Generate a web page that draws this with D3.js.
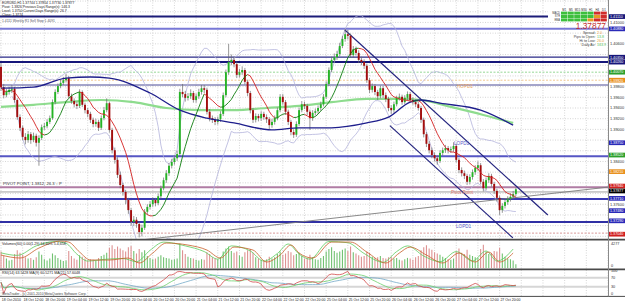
<!DOCTYPE html>
<html>
<head>
<meta charset="utf-8">
<script src="https://cdn.jsdelivr.net/npm/d3@7"></script>
<style>
  body { margin: 0; background: #fff; }
  svg { display: block; font-family: "Liberation Sans", Arial, sans-serif; }
</style>
</head>
<body>
<div id="chart"></div>
<script>
// EURUSD H1, 18 - 27 Oct 2010
var firstOpen = 1.4017;
var closes = [
  1.3979,1.3964,1.3970,1.3974,1.3976,1.3955,1.3923,1.3903,1.3886,1.3880,
  1.3891,1.3880,1.3888,1.3875,1.3884,1.3904,1.3906,1.3914,1.3921,1.3951,
  1.3970,1.3981,1.3987,1.3992,1.3996,1.3962,1.3953,1.3947,1.3944,1.3970,
  1.3946,1.3936,1.3929,1.3918,1.3910,1.3914,1.3903,1.3921,1.3936,1.3949,
  1.3899,1.3861,1.3843,1.3815,1.3796,1.3783,1.3768,1.3749,1.3727,1.3731,
  1.3723,1.3708,1.3716,1.3746,1.3755,1.3760,1.3768,1.3762,1.3775,1.3790,
  1.3805,1.3818,1.3832,1.3839,1.3846,1.3854,1.3970,1.3966,1.3959,1.3962,
  1.3968,1.3955,1.3962,1.3970,1.3977,1.3974,1.3933,1.3921,1.3918,1.3914,
  1.3919,1.3929,1.3964,1.4007,1.4026,1.4030,1.4022,1.4002,1.4007,1.4011,
  1.3989,1.3968,1.3936,1.3918,1.3925,1.3921,1.3929,1.3923,1.3919,1.3908,
  1.3914,1.3921,1.3936,1.3961,1.3951,1.3933,1.3914,1.3895,1.3890,1.3910,
  1.3936,1.3947,1.3944,1.3933,1.3921,1.3931,1.3934,1.3940,1.3947,1.3961,
  1.3985,1.4011,1.4030,1.4035,1.4041,1.4056,1.4069,1.4078,1.4075,1.4039,
  1.4050,1.4043,1.4030,1.4026,1.4019,1.3992,1.3974,1.3981,1.3970,1.3962,
  1.3977,1.3964,1.3957,1.3940,1.3936,1.3947,1.3959,1.3961,1.3951,1.3959,
  1.3966,1.3955,1.3951,1.3947,1.3940,1.3918,1.3891,1.3873,1.3861,1.3852,
  1.3846,1.3841,1.3856,1.3861,1.3865,1.3861,1.3863,1.3869,1.3843,1.3824,
  1.3818,1.3813,1.3802,1.3811,1.3820,1.3828,1.3833,1.3802,1.3790,1.3805,
  1.3813,1.3798,1.3785,1.3772,1.3749,1.3757,1.3764,1.3770,1.3774,1.3779,
  1.3788
];
var highs = [
  1.4024,1.3985,1.3976,1.3980,1.3983,1.3980,1.3958,1.3928,1.3907,1.3893,
  1.3897,1.3895,1.3894,1.3892,1.3889,1.3909,1.3912,1.3919,1.3926,1.3956,
  1.3975,1.3986,1.3993,1.3998,1.4004,1.4000,1.3967,1.3958,1.3952,1.3975,
  1.3973,1.3950,1.3940,1.3933,1.3922,1.3920,1.3918,1.3926,1.3942,1.3958,
  1.3952,1.3903,1.3866,1.3848,1.3821,1.3800,1.3787,1.3772,1.3753,1.3738,
  1.3736,1.3728,1.3722,1.3751,1.3760,1.3766,1.3773,1.3772,1.3780,1.3795,
  1.3810,1.3824,1.3837,1.3845,1.3852,1.3860,1.3976,1.3985,1.3972,1.3968,
  1.3975,1.3972,1.3967,1.3976,1.3983,1.3983,1.3978,1.3938,1.3926,1.3923,
  1.3924,1.3934,1.3969,1.4012,1.4060,1.4040,1.4036,1.4027,1.4013,1.4018,
  1.4015,1.3993,1.3972,1.3940,1.3930,1.3929,1.3934,1.3933,1.3928,1.3923,
  1.3920,1.3926,1.3941,1.3966,1.3966,1.3955,1.3937,1.3918,1.3900,1.3915,
  1.3941,1.3953,1.3952,1.3948,1.3937,1.3936,1.3939,1.3945,1.3952,1.3966,
  1.3990,1.4016,1.4036,1.4042,1.4047,1.4062,1.4075,1.4088,1.4086,1.4079,
  1.4056,1.4055,1.4048,1.4036,1.4031,1.4023,1.3996,1.3986,1.3985,1.3974,
  1.3982,1.3981,1.3969,1.3961,1.3945,1.3952,1.3963,1.3967,1.3965,1.3964,
  1.3971,1.3970,1.3960,1.3956,1.3952,1.3944,1.3922,1.3895,1.3878,1.3866,
  1.3857,1.3851,1.3861,1.3866,1.3871,1.3869,1.3868,1.3876,1.3873,1.3847,
  1.3829,1.3823,1.3817,1.3816,1.3825,1.3833,1.3840,1.3837,1.3807,1.3810,
  1.3818,1.3817,1.3802,1.3789,1.3776,1.3762,1.3769,1.3775,1.3780,1.3785,
  1.3791
];
var lows = [
  1.3972,1.3958,1.3960,1.3965,1.3968,1.3950,1.3918,1.3897,1.3880,1.3872,
  1.3875,1.3873,1.3876,1.3868,1.3832,1.3880,1.3899,1.3902,1.3910,1.3918,
  1.3947,1.3966,1.3977,1.3983,1.3988,1.3958,1.3948,1.3941,1.3938,1.3940,
  1.3942,1.3930,1.3923,1.3912,1.3904,1.3905,1.3897,1.3899,1.3917,1.3932,
  1.3894,1.3855,1.3836,1.3809,1.3790,1.3776,1.3760,1.3742,1.3720,1.3719,
  1.3716,1.3698,1.3700,1.3712,1.3740,1.3750,1.3755,1.3756,1.3758,1.3770,
  1.3786,1.3800,1.3813,1.3827,1.3834,1.3841,1.3850,1.3960,1.3952,1.3954,
  1.3957,1.3950,1.3950,1.3957,1.3965,1.3968,1.3928,1.3915,1.3912,1.3908,
  1.3909,1.3914,1.3925,1.3960,1.4002,1.4020,1.4016,1.3996,1.3997,1.4002,
  1.3984,1.3962,1.3930,1.3912,1.3913,1.3915,1.3916,1.3918,1.3912,1.3900,
  1.3903,1.3909,1.3917,1.3932,1.3946,1.3927,1.3908,1.3889,1.3884,1.3886,
  1.3906,1.3932,1.3938,1.3927,1.3899,1.3916,1.3926,1.3929,1.3935,1.3943,
  1.3957,1.3981,1.4007,1.4025,1.4030,1.4037,1.4052,1.4064,1.4068,1.4034,
  1.4034,1.4038,1.4024,1.4020,1.4013,1.3987,1.3968,1.3969,1.3964,1.3955,
  1.3958,1.3959,1.3951,1.3934,1.3929,1.3931,1.3943,1.3954,1.3946,1.3947,
  1.3954,1.3950,1.3946,1.3942,1.3935,1.3912,1.3885,1.3867,1.3855,1.3846,
  1.3840,1.3834,1.3837,1.3851,1.3856,1.3855,1.3856,1.3858,1.3838,1.3818,
  1.3812,1.3807,1.3796,1.3797,1.3806,1.3815,1.3823,1.3797,1.3784,1.3786,
  1.3800,1.3793,1.3779,1.3765,1.3740,1.3744,1.3752,1.3759,1.3765,1.3769,
  1.3775
];
var volumes = [
  2600,1900,1500,1200,1300,2200,2800,2400,2100,1700,
  1500,1600,1300,1700,2600,2100,1400,1200,1500,2300,
  2000,1600,1300,1100,1200,2700,1900,1500,1300,2000,
  1800,1500,1200,1400,1300,1100,1600,1900,2100,2400,
  3200,3600,3000,3400,3100,2800,2600,3300,3500,2700,
  2300,3000,2500,2800,1900,1600,1400,1500,1800,2000,
  1700,1600,1500,1300,1400,1500,3900,2800,2200,1800,
  1600,1500,1300,1200,1400,1300,2500,2200,1700,1500,
  1400,1700,2600,3100,3400,2700,2400,2600,2000,1800,
  2500,2800,3000,2400,1700,1500,1300,1200,1400,1800,
  1500,1700,2200,2600,2100,2300,2700,2500,2000,2200,
  2400,1900,1500,1600,2100,1700,1400,1300,1600,1900,
  2600,3000,3300,2700,2400,2600,2900,3100,2700,3400,
  2500,2300,2000,1800,1900,2600,2400,1800,1600,1700,
  1900,1600,1500,1700,1800,1500,1600,1300,1200,1400,
  1600,1500,1300,1700,1900,2800,3300,3600,3100,2900,
  2500,2300,2100,1800,1600,1400,1300,1500,2600,3100,
  2400,2200,2900,2100,1900,1700,1600,3000,3700,2600,
  2200,2400,2700,2600,3200,2300,1800,1500,1400,1200,
  600
];

// slow moving averages, read as [bar, price]
var blueMA = [[0,1.3977],[12,1.3979],[24,1.3996],[33,1.3998],[40,1.3996],[55,1.3968],[66,1.3936],
  [76,1.3921],[86,1.3912],[100,1.3899],[110,1.3903],[122,1.3903],[135,1.3912],[143,1.3923],
  [151,1.3951],[155,1.3955],[162,1.3949],[177,1.3936],[189,1.3908]];
var greenMA = [[0,1.3942],[12,1.3946],[24,1.3951],[37,1.3955],[49,1.3951],[61,1.3940],[73,1.3936],
  [86,1.3936],[98,1.3940],[110,1.3944],[122,1.3951],[135,1.3957],[147,1.3957],[155,1.3955],
  [166,1.3942],[178,1.3927],[189,1.3912]];

// volume oscillator lines, read as [bar, value]
var volLineA = [[0,2054],[7,1580],[14,3160],[22,4266],[25,4108],[29,2528],[33,1264],[40,1264],[47,1580],
  [51,790],[56,2370],[61,3950],[69,3634],[76,2844],[81,1580],[86,3318],[93,2844],[98,948],[103,2054],
  [107,3634],[110,2370],[115,1580],[122,4108],[129,4108],[135,2528],[142,790],[147,2370],[151,3318],
  [157,2054],[163,790],[169,2370],[175,948],[180,2528],[184,948],[189,2370]];
var volLineB = [[0,2400],[6,2000],[13,3500],[20,4200],[24,3900],[28,2200],[32,1100],[39,1400],[45,1500],
  [50,1000],[55,2800],[60,4100],[68,3500],[75,2600],[80,1400],[85,3500],[92,2700],[97,1100],[102,2300],
  [106,3800],[110,2200],[114,1400],[121,4200],[128,4000],[134,2300],[141,900],[146,2600],[150,3500],
  [156,1900],[162,1000],[168,2600],[174,1100],[179,2700],[183,1100],[189,3000]];

// horizontal levels and trend lines
var levelPrices = [1.4111, 1.4088, 1.4035, 1.4026, 1.4007, 1.3992, 1.3983, 1.3850, 1.3792, 1.3783, 1.3770, 1.3727, 1.3706];
var trendLines = [
  [[126.9, 1.4086], [201.8, 1.3740]],
  [[143.5, 1.3907], [188.9, 1.3697]],
  [[51.3, 1.3693], [224, 1.3792]]
];
var markerPrices = [1.4111, 1.4088, 1.4035, 1.4026, 1.4007, 1.3992, 1.3875, 1.3852, 1.3821, 1.3794, 1.37877, 1.3771, 1.3748, 1.3729, 1.3704];
var priceTicks = [1.3700,1.3720,1.3740,1.3760,1.3780,1.3800,1.3820,1.3840,1.3860,1.3880,1.3900,1.3920,
  1.3940,1.3960,1.3980,1.4000,1.4020,1.4040,1.4060,1.4080,1.4100,1.4120,1.4140];
var timeLabels = ["18 Oct 2010","18 Oct 12:00","18 Oct 20:00","19 Oct 04:00","19 Oct 12:00","19 Oct 20:00",
  "20 Oct 04:00","20 Oct 12:00","20 Oct 20:00","21 Oct 04:00","21 Oct 12:00","21 Oct 20:00",
  "22 Oct 04:00","22 Oct 12:00","22 Oct 20:00","25 Oct 04:00","25 Oct 12:00","25 Oct 20:00",
  "26 Oct 04:00","26 Oct 12:00","26 Oct 20:00","27 Oct 04:00","27 Oct 12:00","27 Oct 20:00"];

var headerLines = ["EURUSD,H1  1.37744 1.37854 1.37730 1.37877",
  "Pivot: 1.3826     Previous Days Range(s): 146.3",
  "Level: 1.3750     Current Days Range(s): 26.7",
  "Close: 1.3774"];
var tfNames = ["M1","M5","M15","M30","H1","H4","D1"];
var signalRows = ["MACD","STR","EMA"];
var signalStates = [[1,1,1,1,1,-1,-1],[1,1,1,1,1,0,-1],[1,1,1,1,0,-1,-1]];
var infoLabels = ["Spread:", "Pips to Open:", "Hi to Low:", "Daily Av:"];
var infoValues = ["2.0", "13.8", "26.0", "163.9"];

// ---------------------------------------------------------------
var W = 625, H = 304, plotRight = 608;

var svg = d3.select("#chart").append("svg")
  .attr("width", W).attr("height", H);

var x = d3.scaleLinear().domain([0, 224]).range([1, 608]);
var y = d3.scaleLinear().domain([1.3695, 1.4142]).range([239, 0]);
var yVol = d3.scaleLinear().domain([0, 4277]).range([268, 241]);
var yRsi = d3.scaleLinear().domain([0, 100]).range([293.5, 271]);

var bars = closes.map(function(c, i) {
  return {i: i, o: i == 0 ? firstOpen : closes[i - 1], h: highs[i], l: lows[i], c: c, v: volumes[i]};
});

svg.append("defs").append("clipPath").attr("id", "mainclip")
  .append("rect").attr("x", 0).attr("y", 0).attr("width", plotRight).attr("height", 239);

// grid
var gridBars = d3.range(0, 225, 8);
svg.append("g").selectAll("line").data(gridBars).join("line")
  .attr("x1", function(d) { return x(d); }).attr("x2", function(d) { return x(d); })
  .attr("y1", 0).attr("y2", 296)
  .attr("stroke", "#c4c4c4").attr("stroke-width", 0.7).attr("stroke-dasharray", "1,1.5");
svg.append("g").selectAll("line").data(priceTicks).join("line")
  .attr("x1", 0).attr("x2", plotRight)
  .attr("y1", function(d) { return y(d); }).attr("y2", function(d) { return y(d); })
  .attr("stroke", "#c4c4c4").attr("stroke-width", 0.7).attr("stroke-dasharray", "1,1.5");

var main = svg.append("g").attr("clip-path", "url(#mainclip)");

// horizontal levels
var levelStyles = [
  {c: "#1c1c78", w: 2}, {c: "#7878d6", w: 2}, {c: "#2a2a88", w: 1.2}, {c: "#16167a", w: 2},
  {c: "#96d896", w: 1, d: "2,1.5"}, {c: "#f2c890", w: 1, d: "2,1.5"}, {c: "#4a4a96", w: 1},
  {c: "#5656c4", w: 2}, {c: "#b07ca4", w: 2}, {c: "#a0a0a0", w: 1}, {c: "#3a3ab4", w: 2},
  {c: "#3030a4", w: 2}, {c: "#d89898", w: 1, d: "2,1.5"}
];
main.append("g").selectAll("line").data(levelPrices).join("line")
  .attr("x1", 0).attr("x2", plotRight)
  .attr("y1", function(d) { return y(d); }).attr("y2", function(d) { return y(d); })
  .attr("stroke", function(d, i) { return levelStyles[i].c; })
  .attr("stroke-width", function(d, i) { return levelStyles[i].w; })
  .attr("stroke-dasharray", function(d, i) { return levelStyles[i].d || null; });

// bollinger bands (20, 2) and fast MA (10) from the closes
function windowOf(arr, i, n) { return arr.slice(Math.max(0, i - n + 1), i + 1); }
var bb = closes.map(function(c, i) {
  var w = windowOf(closes, i, 20), m = d3.mean(w);
  var sd = Math.sqrt(d3.mean(w, function(v) { return (v - m) * (v - m); }));
  return {i: i, up: m + 2 * sd, dn: m - 2 * sd};
}).filter(function(d) { return d.i >= 4; });
var fastMA = closes.map(function(c, i) { return d3.mean(windowOf(closes, i, 10)); });

main.append("path").datum(bb)
  .attr("d", d3.line().x(function(d) { return x(d.i); }).y(function(d) { return y(d.up); }))
  .attr("fill", "none").attr("stroke", "#b4b4dc").attr("stroke-width", 0.8);
main.append("path").datum(bb)
  .attr("d", d3.line().x(function(d) { return x(d.i); }).y(function(d) { return y(d.dn); }))
  .attr("fill", "none").attr("stroke", "#b4b4dc").attr("stroke-width", 0.8);

var maLine = d3.line().curve(d3.curveMonotoneX)
  .x(function(d) { return x(d[0]); }).y(function(d) { return y(d[1]); });
main.append("path").datum(greenMA).attr("d", maLine)
  .attr("fill", "none").attr("stroke", "#8edc8e").attr("stroke-width", 2.2);

// trend lines
var trendStyles = [{c: "#23237e", w: 1.2}, {c: "#23237e", w: 1.2}, {c: "#7c7c7c", w: 0.9}];
main.append("g").selectAll("line").data(trendLines).join("line")
  .attr("x1", function(d) { return x(d[0][0]); }).attr("y1", function(d) { return y(d[0][1]); })
  .attr("x2", function(d) { return x(d[1][0]); }).attr("y2", function(d) { return y(d[1][1]); })
  .attr("stroke", function(d, i) { return trendStyles[i].c; })
  .attr("stroke-width", function(d, i) { return trendStyles[i].w; });

// candles
var candle = main.append("g").selectAll("g").data(bars).join("g");
candle.append("line")
  .attr("x1", function(d) { return x(d.i); }).attr("x2", function(d) { return x(d.i); })
  .attr("y1", function(d) { return y(d.h); }).attr("y2", function(d) { return y(d.l); })
  .attr("stroke", "#6a6a6a").attr("stroke-width", 0.7);
candle.append("rect")
  .attr("x", function(d) { return x(d.i) - 0.95; }).attr("width", 1.9)
  .attr("y", function(d) { return y(Math.max(d.o, d.c)); })
  .attr("height", function(d) { return Math.max(0.8, Math.abs(y(d.o) - y(d.c))); })
  .attr("fill", function(d) { return d.c >= d.o ? "#25b425" : "#a30d0d"; });

main.append("path").datum(blueMA).attr("d", maLine)
  .attr("fill", "none").attr("stroke", "#1e1e8c").attr("stroke-width", 1.3);

// two colour fast MA
var maSeg = d3.range(1, closes.length);
main.append("g").selectAll("line").data(maSeg).join("line")
  .attr("x1", function(i) { return x(i - 1); }).attr("y1", function(i) { return y(fastMA[i - 1]); })
  .attr("x2", function(i) { return x(i); }).attr("y2", function(i) { return y(fastMA[i]); })
  .attr("stroke", function(i) { return fastMA[i] < fastMA[i - 1] ? "#d42020" : "#0c7c0c"; })
  .attr("stroke-width", 0.9);

// chart labels
main.append("text").attr("x", 3).attr("y", 185).attr("font-size", 4.2).attr("fill", "#333")
  .text("PIVOT POINT, 1.3812, 26.3 \u2191 P");
main.append("text").attr("x", 451).attr("y", 193.5).attr("font-size", 4.6).attr("fill", "#e07a6a").text("Pivot Point");
main.append("text").attr("x", 454).attr("y", 145).attr("font-size", 4.6).attr("fill", "#5a5ac8").text("LOPD1");
main.append("text").attr("x", 456).attr("y", 228).attr("font-size", 4.6).attr("fill", "#5a5ac8").text("LOPD1");
main.append("text").attr("x", 457).attr("y", 88).attr("font-size", 4.6).attr("fill", "#f0a860").text("HOPD1");

// header text (top left)
svg.append("g").selectAll("text").data(headerLines).join("text")
  .attr("x", 2).attr("y", function(d, i) { return 4 + i * 4; })
  .attr("font-size", 3.4).attr("fill", "#222").text(function(d) { return d; });
svg.append("text").attr("x", 2).attr("y", 21.5).attr("font-size", 3.4).attr("fill", "#556")
  .text("1.4111  Weekly R1  Sell Stop  1.4091");

// timeframe signal widget (top right)
var cellW = 6.6, cellX0 = 561;
var stateColor = {"1": "#3cbf3c", "0": "#e89a22", "-1": "#d02c2c"};
svg.append("rect").attr("x", 548).attr("y", 7).attr("width", 60).attr("height", 15).attr("fill", "#fff");
svg.append("g").selectAll("text").data(tfNames).join("text")
  .attr("x", function(d, i) { return cellX0 + i * cellW + cellW / 2; }).attr("y", 10.6)
  .attr("text-anchor", "middle").attr("font-size", 2.8).attr("fill", "#222").text(function(d) { return d; });
signalRows.forEach(function(row, r) {
  svg.append("text").attr("x", cellX0 - 1).attr("y", 13.9 + r * 3.4).attr("text-anchor", "end")
    .attr("font-size", 2.6).attr("fill", "#333").text(row);
  svg.append("g").selectAll("rect").data(signalStates[r]).join("rect")
    .attr("x", function(d, i) { return cellX0 + i * cellW; }).attr("y", 11.6 + r * 3.4)
    .attr("width", cellW - 0.4).attr("height", 3.0)
    .attr("fill", function(d) { return stateColor[d]; });
});
svg.append("text").attr("x", 606).attr("y", 28.6).attr("text-anchor", "end")
  .attr("font-size", 8.4).attr("fill", "#c23030").text("1.37877");
var infoColors = ["#e8a030", "#56c456", "#e8a030", "#56c456"];
svg.append("g").selectAll("text").data(infoLabels).join("text")
  .attr("x", 595.5).attr("y", function(d, i) { return 34.4 + i * 3.9; })
  .attr("text-anchor", "end").attr("font-size", 3.6).attr("fill", "#444").text(function(d) { return d; });
svg.append("g").selectAll("text").data(infoValues).join("text")
  .attr("x", 597).attr("y", function(d, i) { return 34.4 + i * 3.9; })
  .attr("font-size", 3.6).attr("fill", function(d, i) { return infoColors[i]; }).text(function(d) { return d; });

// volume panel
svg.append("g").selectAll("line").data(bars).join("line")
  .attr("x1", function(d) { return x(d.i); }).attr("x2", function(d) { return x(d.i); })
  .attr("y1", yVol(0)).attr("y2", function(d) { return yVol(d.v); })
  .attr("stroke", function(d) { return d.c >= d.o ? "#72c272" : "#de9292"; })
  .attr("stroke-width", 1.1);
var volLine = d3.line().curve(d3.curveMonotoneX)
  .x(function(d) { return x(d[0]); }).y(function(d) { return yVol(d[1]); });
svg.append("path").datum(volLineB).attr("d", volLine)
  .attr("fill", "none").attr("stroke", "#5ccc5c").attr("stroke-width", 0.8);
svg.append("path").datum(volLineA).attr("d", volLine)
  .attr("fill", "none").attr("stroke", "#c8602a").attr("stroke-width", 0.8);
svg.append("text").attr("x", 2).attr("y", 244.6).attr("font-size", 3.6).attr("fill", "#222")
  .text("Volumes(60) 0.00(1.29) 64.60% 5.4,658");

// RSI panel, computed from the closes
var rsi = closes.map(function(c, i) {
  if (i == 0) return 50;
  var g = 0, l = 0;
  for (var k = Math.max(1, i - 13); k <= i; k++) {
    var dlt = closes[k] - closes[k - 1];
    if (dlt > 0) g += dlt; else l -= dlt;
  }
  return g + l == 0 ? 50 : 100 * g / (g + l);
});
var rsiFast = rsi.map(function(v, i) { return d3.mean(windowOf(rsi, i, 9)); });
var rsiSlow = rsi.map(function(v, i) { return d3.mean(windowOf(rsi, i, 21)); });

svg.append("g").selectAll("line").data([70, 30]).join("line")
  .attr("x1", 0).attr("x2", plotRight)
  .attr("y1", function(d) { return yRsi(d); }).attr("y2", function(d) { return yRsi(d); })
  .attr("stroke", "#d6d6d6").attr("stroke-width", 1.8);
var rsiLine = d3.line().x(function(d, i) { return x(i); }).y(function(d) { return yRsi(d); });
svg.append("path").datum(rsiSlow).attr("d", rsiLine)
  .attr("fill", "none").attr("stroke", "#74aac8").attr("stroke-width", 0.8);
svg.append("path").datum(rsiFast).attr("d", rsiLine)
  .attr("fill", "none").attr("stroke", "#6cd06c").attr("stroke-width", 0.8);
svg.append("path").datum(rsi).attr("d", rsiLine)
  .attr("fill", "none").attr("stroke", "#d24a4a").attr("stroke-width", 0.8);
svg.append("text").attr("x", 2).attr("y", 274.4).attr("font-size", 3.6).attr("fill", "#222")
  .text("RSI(14) 63.5428  MA(9) 60.5271  MA(21) 57.6048");
svg.append("text").attr("x", 2).attr("y", 295.2).attr("font-size", 3.4).attr("fill", "#444")
  .text("MetaTrader - (c) 2001-2010 MetaQuotes Software Corp.");

// panel separators and border
svg.append("g").selectAll("line").data([239.6, 269.4, 296.4]).join("line")
  .attr("x1", 0).attr("x2", W).attr("y1", function(d) { return d; }).attr("y2", function(d) { return d; })
  .attr("stroke", "#4a4a4a").attr("stroke-width", function(d, i) { return i < 2 ? 1.6 : 1; });
svg.append("line").attr("x1", plotRight + 0.5).attr("x2", plotRight + 0.5).attr("y1", 0).attr("y2", 296.4)
  .attr("stroke", "#8a8a8a").attr("stroke-width", 1);

// price axis: coloured markers pushed apart, plain ticks where there is room
var markerColors = ["#16167a", "#2a2ab8", "#16167a", "#16167a", "#2ca02c", "#e8901c", "#2a2ab8",
  "#2ca02c", "#e8901c", "#d02020", "#000000", "#2a2ab8", "#2a2ab8", "#2a2ab8", "#d02020"];
var markers = markerPrices.map(function(p, i) { return {p: p, c: markerColors[i], y: y(p)}; })
  .sort(function(a, b) { return a.y - b.y; });
for (var k = 1; k < markers.length; k++) {
  if (markers[k].y - markers[k - 1].y < 4.9) markers[k].y = markers[k - 1].y + 4.9;
}
var freeTicks = priceTicks.filter(function(t) {
  return y(t) > 3 && markers.every(function(m) { return Math.abs(m.y - y(t)) > 5.2; });
});
svg.append("g").selectAll("text").data(freeTicks).join("text")
  .attr("x", 610).attr("y", function(d) { return y(d) + 1.4; })
  .attr("font-size", 3.9).attr("fill", "#333").text(function(d) { return d.toFixed(5); });
var marker = svg.append("g").selectAll("g").data(markers).join("g");
marker.append("rect").attr("x", 609).attr("width", 16)
  .attr("y", function(d) { return d.y - 2.35; }).attr("height", 4.7)
  .attr("fill", function(d) { return d.c; });
marker.append("text").attr("x", 610).attr("y", function(d) { return d.y + 1.3; })
  .attr("font-size", 3.7).attr("fill", "#fff").text(function(d) { return d.p.toFixed(5); });

svg.append("text").attr("x", 611).attr("y", 244.5).attr("font-size", 3.8).attr("fill", "#333").text("4277");
svg.append("text").attr("x", 611).attr("y", 267).attr("font-size", 3.8).attr("fill", "#333").text("0");
svg.append("g").selectAll("text").data([100, 70, 30, 0]).join("text")
  .attr("x", 611).attr("y", function(d) { return yRsi(d) + 1.4; })
  .attr("font-size", 3.8).attr("fill", "#333").text(function(d) { return d; });

// time axis
svg.append("g").selectAll("text").data(timeLabels).join("text")
  .attr("x", function(d, i) { return x(i * 8) + 0.8; }).attr("y", 301.4)
  .attr("font-size", 3.5).attr("fill", "#222").text(function(d) { return d; });
</script>
</body>
</html>
